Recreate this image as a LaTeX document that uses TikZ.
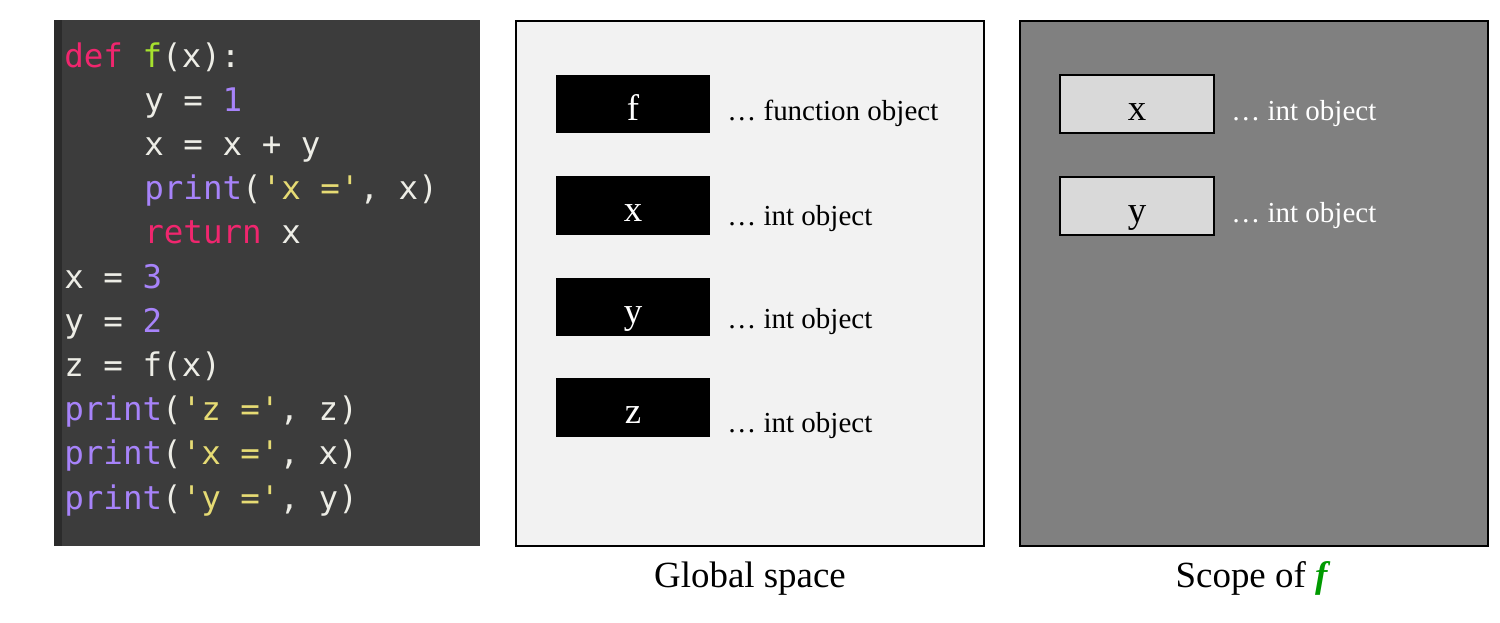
\documentclass[tikz,border=0pt]{standalone}
\usepackage{fontspec}
\setmainfont{Liberation Serif}
\newfontfamily\codefont{DejaVu Sans Mono}

\definecolor{codebg}{HTML}{3C3C3C}
\definecolor{gutter}{HTML}{2B2B2B}
\definecolor{codetxt}{HTML}{EDEDE6}
\definecolor{codepink}{HTML}{F0266E}
\definecolor{codegreen}{HTML}{A6E22E}
\definecolor{codepurple}{HTML}{A783FA}
\definecolor{codeyellow}{HTML}{E6DB74}
\definecolor{globalbg}{HTML}{F2F2F2}
\definecolor{scopebg}{HTML}{808080}
\definecolor{localbox}{HTML}{D9D9D9}
\definecolor{fgreen}{HTML}{009A00}

\newcommand\kwd[1]{\textcolor{codepink}{#1}}
\newcommand\fnm[1]{\textcolor{codegreen}{#1}}
\newcommand\nmb[1]{\textcolor{codepurple}{#1}}
\newcommand\strg[1]{\textcolor{codeyellow}{#1}}

\tikzset{
  codeline/.style={anchor=base west, inner sep=0pt, text=codetxt,
    font=\codefont\fontsize{18.5}{22}\selectfont},
  namebox/.style={fill=black, text=white, inner sep=0pt,
    minimum width=3.08cm, text height=25.8pt, text depth=7.4pt,
    font=\fontsize{21}{25}\selectfont},
  localname/.style={namebox, draw=black, line width=1pt, fill=localbox, text=black},
  objlabel/.style={anchor=base west, inner sep=0pt, font=\fontsize{16.5}{20}\selectfont},
  caption/.style={anchor=base, inner sep=0pt, font=\fontsize{21}{25}\selectfont}
}

\begin{document}
\begin{tikzpicture}[x=0.02cm, y=-0.02cm]
  \useasboundingbox (0,0) rectangle (1500,622);

  % code panel
  \fill[codebg] (54,20) rectangle (480,546);
  \fill[gutter] (54,20) rectangle (62,546);
  \node[codeline] (c1) at (64,67) {\kwd{def} \fnm{f}(x):};
  \node[codeline] (c2) at (144,111.2) {y = \nmb{1}};
  \node[codeline] (c3) at (144,155.4) {x = x + y};
  \node[codeline] (c4) at (144,199.6) {\nmb{print}(\strg{'x ='}, x)};
  \node[codeline] (c5) at (144,243.8) {\kwd{return} x};
  \node[codeline] (c6) at (64,288) {x = \nmb{3}};
  \node[codeline] (c7) at (64,332.2) {y = \nmb{2}};
  \node[codeline] (c8) at (64,376.4) {z = f(x)};
  \node[codeline] (c9) at (64,420.6) {\nmb{print}(\strg{'z ='}, z)};
  \node[codeline] (c10) at (64,464.8) {\nmb{print}(\strg{'x ='}, x)};
  \node[codeline] (c11) at (64,509) {\nmb{print}(\strg{'y ='}, y)};

  % global space
  \draw[fill=globalbg, line width=1.2pt] (516,21) rectangle (984,546);
  \node[namebox] (gf) at (633,104) {f};
  \node[objlabel] (gfl) at (727,120) {… function object};
  \foreach \n/\y/\b in {x/205.5/225, y/307/328, z/407.5/432} {
    \node[namebox] (g\n) at (633,\y) {\n};
    \node[objlabel] (g\n l) at (727,\b) {… int object};
  }
  \node[caption] (gcap) at (750,587) {Global space};

  % scope of f
  \draw[fill=scopebg, line width=1.2pt] (1020,21) rectangle (1488,546);
  \node[localname] (lx) at (1137,104) {x};
  \node[objlabel, text=white] (lxl) at (1231,120) {… int object};
  \node[localname] (ly) at (1137,206) {y};
  \node[objlabel, text=white] (lyl) at (1231,222) {… int object};
  \node[caption] (scap) at (1253,587) {Scope of \textcolor{fgreen}{\textbf{\textit{f}}}};
\end{tikzpicture}
\end{document}
